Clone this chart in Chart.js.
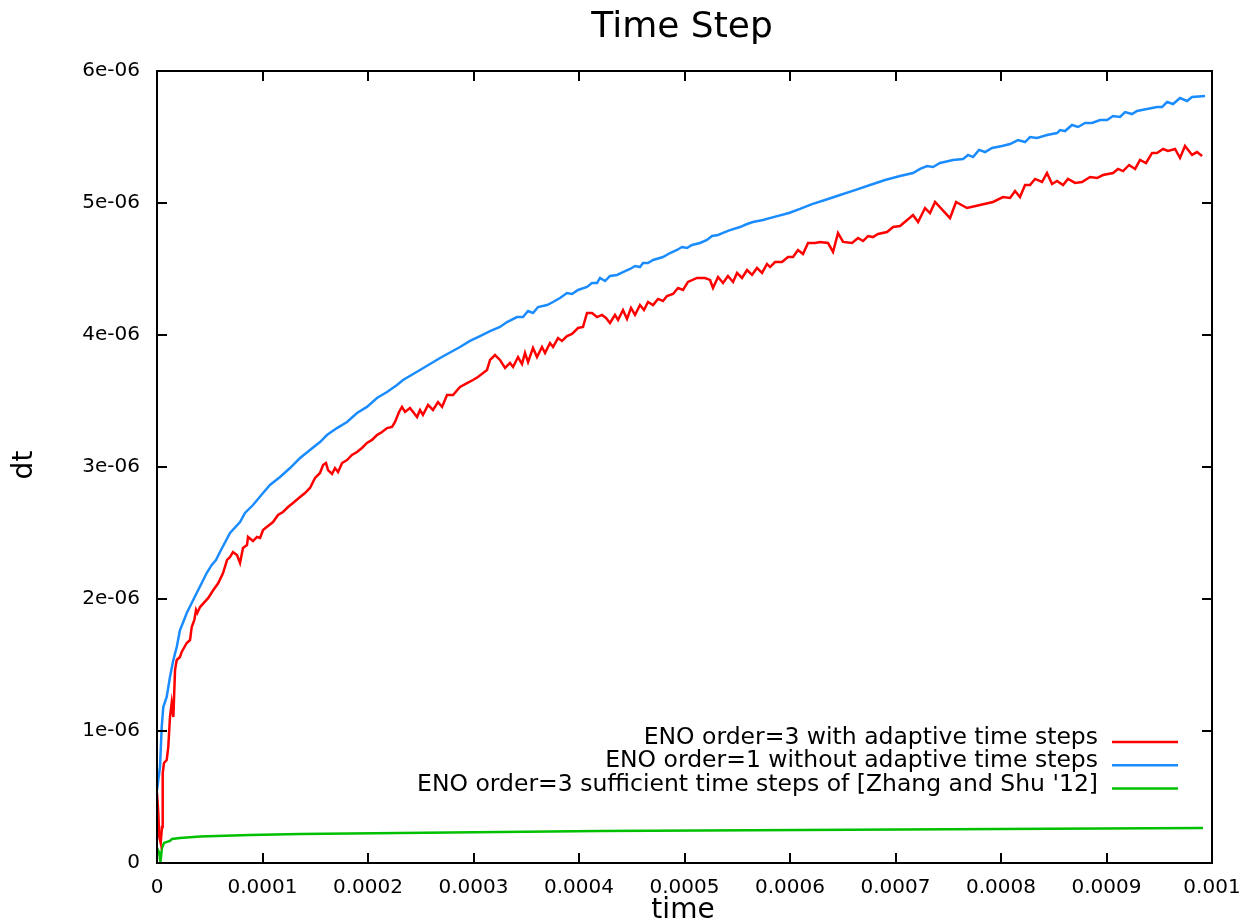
<!DOCTYPE html>
<html>
<head>
<meta charset="utf-8">
<title>Time Step</title>
<script src="https://cdn.jsdelivr.net/npm/chart.js@4.4.1/dist/chart.umd.min.js"></script>
<style>
  html, body { margin: 0; padding: 0; background: #fff; }
</style>
</head>
<body>
<canvas id="chart" width="1246" height="923"></canvas>
<script>
// time in microseconds, dt in units of 1e-6
const redSeries = [
  [0,0.530],[1.23,0.379],[2.18,0.197],[3.51,0.152],[4.74,0.273],[5.40,0.682],[6.64,0.758],[9.19,0.780],
  [10.7,0.879],[12.3,1.106],[13.9,1.212],[15.5,1.106],[17.1,1.462],[18.7,1.538],[21.8,1.561],[23.4,1.599],
  [28.2,1.667],[31.3,1.689],[32.9,1.788],[35.4,1.841],[37.0,1.917],[38.2,1.894],[40.8,1.939],[48.6,2.008],
  [53.4,2.068],[58.1,2.121],[62.6,2.197],[66.4,2.296],[69.2,2.318],[72.0,2.356],[75.8,2.333],[78.7,2.273],
  [81.5,2.386],[85.3,2.409],[86.3,2.470],[91.0,2.439],[94.8,2.470],[97.7,2.462],[100.5,2.523],[105.2,2.553],
  [110.0,2.583],[114.7,2.636],[119.4,2.659],[124.2,2.697],[128.9,2.727],[135.6,2.773],[140.3,2.803],[145.0,2.841],
  [149.8,2.917],[154.5,2.955],[157.4,3.015],[160.2,3.030],[162.1,2.977],[165.9,2.947],[168.7,2.992],[171.6,2.962],
  [175.4,3.030],[180.1,3.053],[184.8,3.091],[189.6,3.114],[194.3,3.144],[199.0,3.182],[203.8,3.205],[208.5,3.242],
  [213.3,3.265],[218.0,3.295],[222.8,3.303],[225.6,3.341],[229.4,3.417],[232.2,3.455],[235.1,3.417],[239.8,3.447],
  [246.5,3.379],[249.3,3.432],[252.1,3.394],[256.9,3.470],[261.6,3.432],[266.4,3.492],[270.2,3.455],[274.9,3.545],
  [280.6,3.545],[287.2,3.606],[293.9,3.636],[299.5,3.659],[304.2,3.682],[312.8,3.735],[315.7,3.811],[320.4,3.848],
  [325.1,3.811],[329.9,3.750],[334.6,3.788],[337.5,3.758],[342.2,3.833],[346.0,3.780],[348.8,3.864],[351.7,3.795],
  [356.4,3.902],[360.2,3.833],[364.9,3.909],[367.8,3.864],[372.5,3.939],[375.4,3.909],[380.1,3.977],[383.9,3.955],
  [388.6,3.992],[393.4,4.008],[399.1,4.053],[403.8,4.061],[407.6,4.167],[412.3,4.167],[417.1,4.136],[421.8,4.152],
  [425.6,4.129],[429.4,4.091],[434.1,4.152],[437.0,4.114],[441.7,4.189],[445.5,4.121],[449.3,4.205],[453.1,4.152],
  [457.8,4.227],[461.6,4.189],[465.4,4.250],[470.2,4.227],[474.9,4.273],[479.6,4.258],[483.4,4.295],[489.1,4.311],
  [493.9,4.356],[498.6,4.341],[503.3,4.402],[511.9,4.432],[519.4,4.432],[524.2,4.417],[527.0,4.356],[531.8,4.439],
  [536.5,4.394],[541.2,4.447],[546.0,4.402],[549.8,4.470],[554.5,4.432],[559.3,4.492],[564.0,4.455],[568.7,4.508],
  [573.5,4.470],[578.2,4.538],[581.1,4.515],[585.8,4.553],[592.4,4.553],[598.1,4.591],[602.9,4.591],[607.6,4.644],
  [612.3,4.614],[617.1,4.697],[623.7,4.697],[628.5,4.705],[636.0,4.697],[640.8,4.629],[645.5,4.773],[650.3,4.705],
  [658.8,4.697],[664.5,4.735],[669.2,4.712],[674.0,4.750],[678.7,4.742],[683.4,4.765],[692.0,4.780],[697.7,4.818],
  [704.3,4.826],[716.6,4.909],[721.4,4.856],[728.0,4.962],[732.7,4.924],[737.5,5.008],[751.7,4.886],[757.4,5.008],
  [767.8,4.962],[780.1,4.985],[792.4,5.008],[801.9,5.045],[808.6,5.038],[813.3,5.091],[818.0,5.045],[822.8,5.136],
  [827.5,5.136],[832.3,5.182],[838.9,5.159],[843.6,5.227],[848.4,5.144],[853.1,5.167],[858.8,5.136],[863.5,5.182],
  [870.2,5.152],[876.8,5.159],[884.4,5.197],[891.0,5.189],[896.7,5.212],[906.2,5.227],[910.9,5.258],[915.7,5.242],
  [921.4,5.288],[927.1,5.258],[931.8,5.326],[937.5,5.303],[943.2,5.379],[947.9,5.379],[953.6,5.409],[958.3,5.394],
  [965.0,5.409],[969.7,5.341],[974.4,5.432],[981.1,5.364],[985.8,5.386],[990.6,5.356]
];

const blueSeries = [
  [0,0.553],[1.23,0.629],[2.84,0.727],[4.46,1.030],[5.97,1.182],[9.19,1.258],[12.3,1.409],[15.5,1.538],
  [18.7,1.636],[21.8,1.765],[24.9,1.826],[28.2,1.894],[32.9,1.970],[37.6,2.045],[42.4,2.121],[47.1,2.197],
  [51.9,2.258],[55.9,2.295],[59.7,2.356],[69.2,2.500],[78.7,2.583],[83.4,2.652],[91.0,2.712],[100.5,2.803],
  [107.1,2.864],[116.6,2.924],[126.1,2.992],[135.6,3.068],[145.0,3.129],[154.5,3.189],[161.1,3.242],[170.6,3.295],
  [180.1,3.341],[189.6,3.409],[199.0,3.455],[208.5,3.523],[218.0,3.568],[227.5,3.621],[233.2,3.659],[249.3,3.735],
  [268.3,3.826],[287.2,3.909],[296.7,3.955],[306.2,3.992],[315.7,4.030],[325.1,4.061],[331.8,4.098],[341.2,4.136],
  [346.9,4.136],[351.7,4.182],[356.4,4.167],[361.2,4.212],[369.7,4.227],[375.4,4.250],[382.0,4.280],[388.6,4.318],
  [393.4,4.311],[399.1,4.341],[407.6,4.364],[412.3,4.394],[417.1,4.394],[419.9,4.432],[424.7,4.409],[429.4,4.447],
  [436.0,4.455],[441.7,4.477],[448.4,4.500],[453.1,4.523],[457.8,4.515],[460.7,4.545],[465.4,4.545],[470.2,4.568],
  [479.6,4.591],[486.3,4.621],[492.9,4.644],[497.6,4.667],[502.4,4.659],[507.1,4.682],[514.7,4.697],[521.3,4.720],
  [526.1,4.750],[531.8,4.758],[536.5,4.773],[543.1,4.795],[552.6,4.818],[559.3,4.841],[564.9,4.856],[574.4,4.871],
  [586.0,4.897],[599.1,4.924],[609.5,4.955],[620.9,4.992],[633.2,5.023],[647.4,5.061],[661.6,5.098],[675.9,5.136],
  [690.1,5.174],[704.3,5.205],[716.6,5.227],[723.3,5.258],[729.9,5.280],[735.6,5.273],[742.2,5.303],[754.5,5.326],
  [764.0,5.333],[768.8,5.364],[773.5,5.348],[779.2,5.402],[784.9,5.386],[791.5,5.417],[801.0,5.432],[808.6,5.447],
  [816.1,5.477],[822.8,5.462],[827.5,5.500],[834.2,5.492],[843.6,5.515],[853.1,5.530],[856.0,5.553],[860.7,5.545],
  [867.3,5.591],[873.0,5.576],[879.7,5.606],[886.3,5.606],[893.9,5.629],[900.5,5.629],[906.2,5.659],[912.8,5.652],
  [917.6,5.689],[924.2,5.674],[928.9,5.697],[938.4,5.712],[947.9,5.727],[952.6,5.727],[957.4,5.765],[963.1,5.750],
  [969.7,5.795],[976.3,5.773],[981.1,5.803],[993.4,5.811]
];

const greenSeries = [
  [0,0.114],[1.9,0.083],[3.3,0.008],[4.7,0.114],[6.6,0.152],[12.3,0.167],[14.2,0.182],[21.8,0.189],
  [40.8,0.201],[88.2,0.212],[135.6,0.220],[230,0.227],[325,0.235],[420,0.242],[515,0.246],[610,0.250],
  [704,0.254],[799,0.258],[894,0.261],[991.5,0.265]
];

const seriesLabels = [
  "ENO order=3 with adaptive time steps",
  "ENO order=1 without adaptive time steps",
  "ENO order=3 sufficient time steps of [Zhang and Shu '12]"
];
const seriesColors = ["#ff0000", "#1a8cff", "#00c000"];

const xTickValues = [0, 0.0001, 0.0002, 0.0003, 0.0004, 0.0005, 0.0006, 0.0007, 0.0008, 0.0009, 0.001];
const xTickLabels = ["0", "0.0001", "0.0002", "0.0003", "0.0004", "0.0005", "0.0006", "0.0007", "0.0008", "0.0009", "0.001"];
const yTickValues = [0, 1e-6, 2e-6, 3e-6, 4e-6, 5e-6, 6e-6];
const yTickLabels = ["0", "1e-06", "2e-06", "3e-06", "4e-06", "5e-06", "6e-06"];

const FONT = "'DejaVu Sans', sans-serif";

function toPoints(series) {
  return series.map((p) => ({ x: p[0] * 1e-6, y: p[1] * 1e-6 }));
}

// frame, inward ticks on all sides, titles and the gnuplot style key
const framePlugin = {
  id: "frame",
  afterDraw(chart) {
    const ctx = chart.ctx;
    const a = chart.chartArea;
    const xs = chart.scales.x;
    const ys = chart.scales.y;
    ctx.save();
    ctx.strokeStyle = "#000";
    ctx.lineWidth = 2;
    ctx.strokeRect(a.left, a.top, a.right - a.left, a.bottom - a.top);
    const tl = 10;
    ctx.beginPath();
    xTickValues.forEach((v) => {
      const px = Math.round(xs.getPixelForValue(v));
      ctx.moveTo(px, a.bottom); ctx.lineTo(px, a.bottom - tl);
      ctx.moveTo(px, a.top); ctx.lineTo(px, a.top + tl);
    });
    yTickValues.forEach((v) => {
      const py = Math.round(ys.getPixelForValue(v));
      ctx.moveTo(a.left, py); ctx.lineTo(a.left + tl, py);
      ctx.moveTo(a.right, py); ctx.lineTo(a.right - tl, py);
    });
    ctx.stroke();

    ctx.fillStyle = "#000";
    ctx.textAlign = "center";
    ctx.textBaseline = "middle";
    ctx.font = "36px " + FONT;
    ctx.fillText("Time Step", 682, 28);
    ctx.font = "28px " + FONT;
    ctx.fillText("time", 683, 911);
    ctx.save();
    ctx.translate(25, 465);
    ctx.rotate(-Math.PI / 2);
    ctx.fillText("dt", 0, 0);
    ctx.restore();

    // key
    ctx.font = "23.5px " + FONT;
    ctx.textAlign = "right";
    chart.data.datasets.forEach((ds, i) => {
      const y = 738 + i * 23.3;
      ctx.fillStyle = "#000";
      ctx.fillText(ds.label, 1098, y);
      ctx.strokeStyle = ds.borderColor;
      ctx.lineWidth = 2.5;
      ctx.beginPath();
      ctx.moveTo(1112, y + 4);
      ctx.lineTo(1178, y + 4);
      ctx.stroke();
    });
    ctx.restore();
  }
};

new Chart(document.getElementById("chart"), {
  type: "line",
  data: {
    datasets: [redSeries, blueSeries, greenSeries].map((s, i) => ({
      label: seriesLabels[i],
      data: toPoints(s),
      borderColor: seriesColors[i],
      backgroundColor: seriesColors[i],
      borderWidth: 2.5,
      pointRadius: 0,
      tension: 0,
      fill: false
    }))
  },
  options: {
    responsive: false,
    animation: false,
    layout: { padding: { top: 71, right: 34, left: 0, bottom: 0 } },
    plugins: {
      legend: { display: false },
      title: { display: false },
      tooltip: { enabled: false }
    },
    scales: {
      x: {
        type: "linear",
        min: 0,
        max: 0.001,
        afterBuildTicks: (scale) => { scale.ticks = xTickValues.map((v) => ({ value: v })); },
        afterFit: (scale) => { scale.height = 60; scale.paddingLeft = 0; scale.paddingRight = 0; },
        grid: { display: false, drawTicks: false },
        border: { display: false },
        ticks: {
          color: "#000",
          font: { family: FONT, size: 20 },
          padding: 13,
          maxRotation: 0,
          autoSkip: false,
          callback: (v, i) => xTickLabels[i]
        }
      },
      y: {
        type: "linear",
        min: 0,
        max: 6e-6,
        afterBuildTicks: (scale) => { scale.ticks = yTickValues.map((v) => ({ value: v })); },
        afterFit: (scale) => { scale.width = 157; scale.paddingTop = 0; scale.paddingBottom = 0; },
        grid: { display: false, drawTicks: false },
        border: { display: false },
        ticks: {
          color: "#000",
          font: { family: FONT, size: 20 },
          padding: 17,
          autoSkip: false,
          callback: (v, i) => yTickLabels[i]
        }
      }
    }
  },
  plugins: [framePlugin]
});
</script>
</body>
</html>
